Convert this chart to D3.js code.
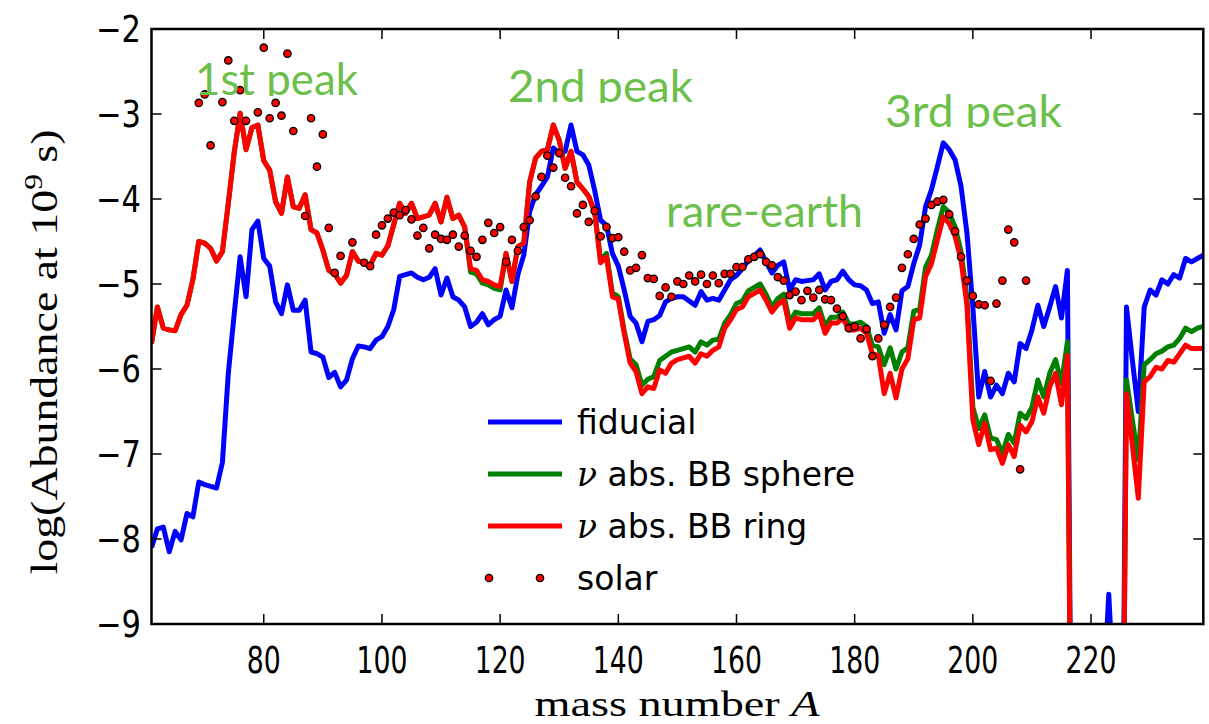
<!DOCTYPE html>
<html><head><meta charset="utf-8">
<script src="https://cdn.jsdelivr.net/npm/d3@7"></script>
<style>body{margin:0;background:#fff;} svg{display:block}</style>
</head><body><svg id="chart" width="1209" height="724"></svg>
<script>
// ---------------- DATA ----------------
const firstMass = 61; // mass number of the first value in each series
// values below -9 are off-scale (drawn clipped at the bottom of the axes)
const fiducial = [
 -8.10,-7.88,-7.86,-8.15,-7.91,-8.01,-7.70,-7.74,-7.33,-7.36,
 -7.38,-7.40,-7.10,-6.05,-5.35,-4.68,-5.15,-4.36,-4.26,-4.70,
 -4.79,-5.21,-5.35,-5.01,-5.31,-5.31,-5.19,-5.80,-5.82,-5.86,
 -6.10,-6.04,-6.21,-6.13,-5.88,-5.73,-5.74,-5.76,-5.66,-5.62,
 -5.50,-5.30,-4.91,-4.89,-4.87,-4.92,-4.95,-4.92,-4.82,-5.13,
 -4.93,-5.15,-5.19,-5.27,-5.50,-5.45,-5.35,-5.48,-5.42,-5.38,
 -5.07,-5.28,-4.89,-4.66,-4.15,-3.95,-3.85,-3.74,-3.40,-3.46,
 -3.44,-3.13,-3.44,-3.48,-3.60,-3.90,-4.25,-4.31,-4.64,-4.79,
 -5.07,-5.38,-5.46,-5.68,-5.44,-5.42,-5.37,-5.21,-5.17,-5.15,
 -5.15,-5.20,-5.25,-5.09,-5.19,-5.17,-5.19,-5.07,-4.95,-4.90,
 -4.82,-4.72,-4.67,-4.60,-4.74,-4.87,-4.78,-4.74,-5.07,-4.95,
 -4.97,-4.96,-4.95,-4.88,-5.07,-4.97,-4.95,-4.85,-4.95,-5.01,
 -5.02,-5.07,-5.23,-5.21,-5.58,-5.36,-5.54,-5.08,-5.03,-4.76,
 -4.54,-4.09,-3.89,-3.62,-3.34,-3.42,-3.54,-3.85,-4.40,-5.27,
 -6.33,-6.03,-6.33,-6.19,-6.29,-6.05,-6.15,-5.70,-5.76,-5.54,
 -5.25,-5.50,-5.27,-5.03,-5.40,-4.84,-14,-14,-14,-14,
 -14,-10,-8.65,-10,-14,-5.27,-5.90,-6.50,-5.27,-5.07,
 -5.13,-4.95,-5.00,-4.89,-4.93,-4.70,-4.74,-4.70,-4.66
];
const bbSphere = [
 -5.70,-5.27,-5.52,-5.54,-5.55,-5.36,-5.25,-4.95,-4.50,-4.52,
 -4.58,-4.73,-4.62,-4.05,-3.45,-2.99,-3.42,-3.16,-3.13,-3.55,
 -3.66,-4.03,-4.17,-3.74,-4.09,-4.11,-3.95,-4.36,-4.40,-4.60,
 -4.84,-4.88,-4.99,-4.90,-4.62,-4.73,-4.75,-4.78,-4.64,-4.66,
 -4.55,-4.30,-4.05,-4.17,-4.05,-4.23,-4.21,-4.19,-4.05,-4.27,
 -3.98,-4.23,-4.19,-4.33,-4.86,-4.88,-4.99,-5.01,-5.05,-5.07,
 -4.64,-4.97,-4.56,-4.52,-3.80,-3.52,-3.44,-3.42,-3.13,-3.31,
 -3.64,-3.44,-3.80,-3.88,-3.97,-4.15,-4.72,-4.64,-5.10,-5.15,
 -5.55,-5.88,-5.95,-6.19,-6.12,-6.09,-5.90,-5.85,-5.80,-5.78,
 -5.76,-5.74,-5.80,-5.68,-5.72,-5.66,-5.65,-5.46,-5.36,-5.23,
 -5.20,-5.08,-5.04,-5.00,-5.12,-5.27,-5.17,-5.12,-5.45,-5.33,
 -5.35,-5.35,-5.35,-5.28,-5.50,-5.39,-5.39,-5.33,-5.47,-5.47,
 -5.45,-5.50,-5.72,-5.74,-5.95,-5.75,-6.00,-5.80,-5.75,-5.32,
 -5.30,-4.80,-4.66,-4.36,-4.09,-4.16,-4.33,-4.62,-5.15,-6.45,
 -6.70,-6.54,-6.81,-6.83,-6.99,-6.77,-6.87,-6.52,-6.58,-6.45,
 -6.13,-6.33,-6.05,-5.89,-6.17,-5.68,-14,-14,-14,-14,
 -14,-14,-14,-14,-14,-6.13,-6.60,-7.07,-5.95,-5.89,
 -5.82,-5.79,-5.74,-5.72,-5.64,-5.52,-5.56,-5.52,-5.50
];
const bbRing = [
 -5.70,-5.27,-5.52,-5.54,-5.55,-5.36,-5.25,-4.95,-4.50,-4.52,
 -4.58,-4.73,-4.62,-4.05,-3.45,-2.99,-3.42,-3.16,-3.13,-3.55,
 -3.66,-4.03,-4.17,-3.74,-4.09,-4.11,-3.95,-4.36,-4.40,-4.60,
 -4.84,-4.88,-4.99,-4.90,-4.62,-4.73,-4.75,-4.78,-4.64,-4.66,
 -4.55,-4.30,-4.05,-4.17,-4.05,-4.23,-4.21,-4.19,-4.05,-4.27,
 -3.98,-4.23,-4.19,-4.33,-4.82,-4.84,-4.95,-4.97,-5.01,-5.03,
 -4.64,-4.97,-4.56,-4.52,-3.80,-3.52,-3.44,-3.42,-3.13,-3.31,
 -3.64,-3.44,-3.80,-3.88,-3.97,-4.15,-4.75,-4.68,-5.15,-5.18,
 -5.58,-5.93,-6.03,-6.29,-6.21,-6.23,-6.01,-6.05,-5.93,-5.89,
 -5.87,-5.85,-5.93,-5.82,-5.85,-5.78,-5.74,-5.52,-5.42,-5.30,
 -5.27,-5.15,-5.11,-5.07,-5.19,-5.33,-5.24,-5.19,-5.52,-5.40,
 -5.42,-5.42,-5.42,-5.35,-5.58,-5.46,-5.46,-5.40,-5.54,-5.54,
 -5.52,-5.58,-5.82,-5.84,-6.29,-6.05,-6.34,-6.00,-5.88,-5.42,
 -5.40,-4.91,-4.76,-4.48,-4.21,-4.29,-4.44,-4.72,-5.25,-6.60,
 -6.89,-6.64,-6.95,-6.93,-7.11,-6.89,-7.03,-6.66,-6.74,-6.62,
 -6.33,-6.52,-6.21,-6.05,-6.42,-5.84,-14,-14,-14,-14,
 -14,-14,-14,-14,-14,-6.29,-6.90,-7.52,-6.15,-6.09,
 -5.98,-6.00,-5.90,-5.92,-5.82,-5.72,-5.76,-5.76,-5.76
];
const solarMass = [69,70,71,73,74,75,76,77,79,80,81,82,83,84,85,87,88,89,90,91,92,93,95,97,98,99,100,
 101,102,103,104,105,106,107,108,109,110,111,112,113,114,115,116,117,118,119,120,
 121,122,123,124,125,126,127,128,129,130,131,132,133,134,135,136,137,138,139,140,
 141,142,143,144,145,146,147,148,149,150,151,152,153,154,155,156,157,158,159,160,
 161,162,163,164,165,166,167,168,169,170,171,172,173,174,175,176,177,178,179,180,
 181,182,183,184,185,186,187,188,189,190,191,192,193,194,195,196,197,198,199,200,
 201,202,203,204,205,206,207,208,209];
const solarValue = [-2.87,-2.77,-3.37,-2.86,-2.37,-3.08,-2.72,-3.08,-2.98,-2.22,-3.05,-2.87,-3.02,-2.29,-3.20,-4.20,-3.05,-3.62,-3.24,-4.34,-4.87,-4.67,-4.51,-4.75,-4.79,-4.42,-4.31,
 -4.23,-4.16,-4.19,-4.13,-4.24,-4.43,-4.34,-4.58,-4.42,-4.47,-4.48,-4.42,-4.56,-4.43,-4.61,-4.68,-4.48,-4.28,-4.40,-4.33,
 -4.74,-4.48,-4.61,-4.33,-4.25,-3.97,-3.74,-3.49,-3.63,-3.46,-3.75,-3.85,-4.17,-4.07,-4.27,-4.14,-4.44,-4.33,-4.46,-4.45,
 -4.62,-4.84,-4.81,-4.66,-4.93,-4.94,-5.14,-5.04,-5.15,-4.97,-5.00,-4.90,-4.97,-4.89,-5.00,-4.90,-4.99,-4.88,-4.88,-4.80,
 -4.80,-4.71,-4.68,-4.65,-4.74,-4.78,-4.92,-4.96,-5.13,-5.09,-5.19,-5.08,-5.16,-5.07,-5.18,-5.19,-5.29,-5.38,-5.52,-5.50,
 -5.64,-5.53,-5.85,-5.64,-5.48,-5.27,-5.16,-4.81,-4.65,-4.47,-4.30,-4.23,-4.07,-4.03,-4.01,-4.18,-4.38,-4.68,-4.96,-5.14,
 -5.24,-5.25,-6.14,-5.23,-4.96,-4.36,-4.51,-7.18,-4.96];
const xTickValues = [80,100,120,140,160,180,200,220];
const yTickValues = [-2,-3,-4,-5,-6,-7,-8,-9];
const peakLabels = ["1st peak","2nd peak","rare-earth","3rd peak"];
const legendLabels = ["fiducial","abs. BB sphere","abs. BB ring","solar"];

// ---------------- LAYOUT ----------------
const svg = d3.select("#chart");
const L = 151.5, R = 1203.3, T = 29, B = 624;
const x = d3.scaleLinear().domain([61, 239]).range([L, R]);
const y = d3.scaleLinear().domain([-9, -2]).range([B, T]);
const LW = 5;

const defs = svg.append("defs");
defs.append("clipPath").attr("id","plotclip").append("rect")
  .attr("x",L).attr("y",T).attr("width",R-L).attr("height",B-T);

const toPts = arr => arr.map((v,i)=>({A:firstMass+i, v}));
const line = d3.line().x(d=>x(d.A)).y(d=>y(d.v));

const series = [
  {data: fiducial, color:"#0000ff"},
  {data: bbSphere, color:"#008000"},
  {data: bbRing,   color:"#ff0000"}
];
const plot = svg.append("g").attr("clip-path","url(#plotclip)");
series.forEach(s=>{
  plot.append("path").datum(toPts(s.data)).attr("d",line)
    .attr("fill","none").attr("stroke",s.color).attr("stroke-width",LW)
    .attr("stroke-linejoin","round").attr("stroke-linecap","butt");
});
plot.selectAll("circle.solar").data(solarMass.map((A,i)=>({A, v:solarValue[i]})))
  .enter().append("circle").attr("class","solar")
  .attr("cx",d=>x(d.A)).attr("cy",d=>y(d.v)).attr("r",3.7)
  .attr("fill","#ff0000").attr("stroke","#000").attr("stroke-width",1.3);

// peak labels (descenders clipped as in the original)
const peakPos = [
  {x:195, base:95, w:163},
  {x:508, base:102, w:185},
  {x:666, base:227, w:197},
  {x:885, base:127, w:177}
];
peakLabels.forEach((t,i)=>{
  const p = peakPos[i];
  defs.append("clipPath").attr("id","pk"+i).append("rect")
    .attr("x",p.x-10).attr("y",p.base-60).attr("width",p.w+30).attr("height",61);
  svg.append("text").attr("x",p.x).attr("y",p.base)
    .attr("clip-path","url(#pk"+i+")")
    .attr("font-family","Lato, 'Open Sans', sans-serif").attr("font-size",45)
    .attr("fill","#6dbf4b").attr("textLength",p.w).attr("lengthAdjust","spacingAndGlyphs")
    .text(t);
});

// axes frame
svg.append("rect").attr("x",L).attr("y",T).attr("width",R-L).attr("height",B-T)
  .attr("fill","none").attr("stroke","#000").attr("stroke-width",2.5);

const tickLen = 10;
const axisG = svg.append("g").attr("stroke","#000").attr("stroke-width",1.5);
xTickValues.forEach(v=>{
  axisG.append("line").attr("x1",x(v)).attr("x2",x(v)).attr("y1",B).attr("y2",B-tickLen);
  axisG.append("line").attr("x1",x(v)).attr("x2",x(v)).attr("y1",T).attr("y2",T+tickLen);
});
yTickValues.forEach(v=>{
  axisG.append("line").attr("x1",L).attr("x2",L+tickLen).attr("y1",y(v)).attr("y2",y(v));
  axisG.append("line").attr("x1",R).attr("x2",R-tickLen).attr("y1",y(v)).attr("y2",y(v));
});
const fmt = d3.format("d");
xTickValues.forEach(v=>{
  const s = fmt(v);
  svg.append("text").attr("x",x(v)).attr("y",673).attr("text-anchor","middle")
    .attr("font-family","'DejaVu Sans', sans-serif").attr("font-size",37)
    .attr("textLength",s.length*17).attr("lengthAdjust","spacingAndGlyphs")
    .text(s);
});
yTickValues.forEach(v=>{
  const s = fmt(v);
  svg.append("text").attr("x",141).attr("y",y(v)+13).attr("text-anchor","end")
    .attr("font-family","'DejaVu Sans', sans-serif").attr("font-size",37)
    .attr("textLength",45).attr("lengthAdjust","spacingAndGlyphs")
    .text(s);
});

// axis titles
const xt = svg.append("text").attr("x",677).attr("y",716).attr("text-anchor","middle")
  .attr("font-family","'Liberation Serif', 'DejaVu Serif', serif").attr("font-size",35)
  .attr("textLength",285).attr("lengthAdjust","spacingAndGlyphs");
xt.append("tspan").text("mass number ");
xt.append("tspan").attr("font-style","italic").text("A");

const yt = svg.append("text").attr("transform","translate(57,352) rotate(-90)")
  .attr("text-anchor","middle")
  .attr("font-family","'Liberation Serif', 'DejaVu Serif', serif").attr("font-size",38)
  .attr("textLength",445).attr("lengthAdjust","spacingAndGlyphs");
yt.append("tspan").text("log(Abundance at 10");
yt.append("tspan").attr("dy",-15).attr("font-size",26).text("9");
yt.append("tspan").attr("dy",15).text(" s)");

// legend
const legY = [422, 474, 526, 578];
const legColors = ["#0000ff","#008000","#ff0000"];
const lg = svg.append("g");
legendLabels.forEach((t,i)=>{
  if (i<3) {
    lg.append("line").attr("x1",488).attr("x2",562).attr("y1",legY[i]).attr("y2",legY[i])
      .attr("stroke",legColors[i]).attr("stroke-width",LW);
  } else {
    [489,540].forEach(cx=>lg.append("circle").attr("cx",cx).attr("cy",legY[i]).attr("r",3.7)
      .attr("fill","#ff0000").attr("stroke","#000").attr("stroke-width",1.3));
  }
  const tx = lg.append("text").attr("x",577).attr("y",legY[i]+12)
    .attr("font-family","'DejaVu Sans', sans-serif").attr("font-size",33);
  if (i===1 || i===2) {
    tx.append("tspan").attr("font-family","'DejaVu Serif', serif").attr("font-style","italic").text("ν");
    tx.append("tspan").text(" " + t);
  } else tx.text(t);
});
</script></body></html>
